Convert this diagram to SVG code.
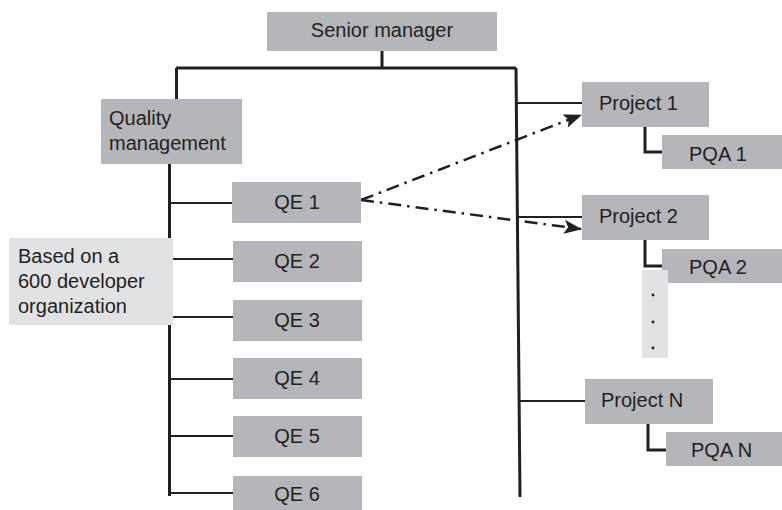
<svg xmlns="http://www.w3.org/2000/svg" width="782" height="510" viewBox="0 0 782 510">
<style>
.box{fill:#b5b6b9}
.lbox{fill:#e1e2e4}
text{font-family:"Liberation Sans",Arial,sans-serif;font-size:20px;fill:#231f20}
.c{text-anchor:middle}
.thick{stroke:#231f20;stroke-width:3;fill:none}
.thin{stroke:#231f20;stroke-width:2;fill:none}
.dd{stroke:#231f20;stroke-width:2.5;fill:none;stroke-dasharray:13 6 2.5 6}
</style>
<defs>
<marker id="ah" viewBox="0 0 18 14" refX="17" refY="7" markerWidth="18" markerHeight="14" markerUnits="userSpaceOnUse" orient="auto">
<path d="M0,0 L18,7 L0,14 L4,7 Z" fill="#231f20"/>
</marker>
</defs>
<rect width="782" height="510" fill="#fff"/>
<g id="connectors">
<path class="thick" d="M382,51 V68 M176,68 H516 M176.5,68 V99"/>
<path class="thick" d="M516,68 L520,497"/>
<path class="thick" d="M169.5,164 V496"/>
<path class="thin" d="M169,203 H233 M173,259 H233 M173,317 H233 M169,379 H233 M169,436 H233 M169,493 H233"/>
<path class="thin" d="M516,103 H582 M517,217 H582 M519,401 H585"/>
<path class="thick" d="M645,127 V152 H662 M645,240 V266 H662 M648,424 V450 H666"/>
<path class="dd" d="M361,200 L581,115" marker-end="url(#ah)"/>
<path class="dd" d="M361,200 L581,229" marker-end="url(#ah)"/>
</g>
<g id="senior"><rect class="box" x="267" y="12" width="230" height="39"/><text class="c" x="382" y="37">Senior manager</text></g>
<g id="qm"><rect class="box" x="101" y="99" width="141" height="65"/><text x="109" y="125">Quality</text><text x="109" y="150">management</text></g>
<g id="qe1"><rect class="box" x="232" y="182" width="129" height="41"/><text class="c" x="297" y="209">QE 1</text></g>
<g id="qe2"><rect class="box" x="233" y="241" width="129" height="41"/><text class="c" x="297" y="268">QE 2</text></g>
<g id="qe3"><rect class="box" x="233" y="300" width="129" height="41"/><text class="c" x="297" y="327">QE 3</text></g>
<g id="qe4"><rect class="box" x="233" y="358" width="129" height="41"/><text class="c" x="297" y="385">QE 4</text></g>
<g id="qe5"><rect class="box" x="233" y="416" width="129" height="41"/><text class="c" x="297" y="443">QE 5</text></g>
<g id="qe6"><rect class="box" x="233" y="476" width="129" height="34"/><text class="c" x="297" y="501">QE 6</text></g>
<g id="note"><rect class="lbox" x="9" y="238" width="164" height="87"/><text x="18" y="263">Based on a</text><text x="18" y="288">600 developer</text><text x="18" y="313">organization</text></g>
<g id="p1"><rect class="box" x="582" y="82" width="127" height="45"/><text x="599" y="110">Project 1</text></g>
<g id="pqa1"><rect class="box" x="662" y="135" width="120" height="34"/><text x="689" y="161">PQA 1</text></g>
<g id="p2"><rect class="box" x="582" y="195" width="127" height="45"/><text x="599" y="223">Project 2</text></g>
<g id="pqa2"><rect class="box" x="662" y="249" width="120" height="34"/><text x="689" y="274">PQA 2</text></g>
<g id="dots"><rect class="lbox" x="642" y="270" width="26" height="88"/><circle cx="653" cy="295" r="1.4" fill="#231f20"/><circle cx="653" cy="322" r="1.4" fill="#231f20"/><circle cx="653" cy="348" r="1.4" fill="#231f20"/></g>
<g id="pn"><rect class="box" x="585" y="379" width="128" height="45"/><text x="601" y="407">Project N</text></g>
<g id="pqan"><rect class="box" x="666" y="432" width="116" height="34"/><text x="691" y="457">PQA N</text></g>
</svg>
